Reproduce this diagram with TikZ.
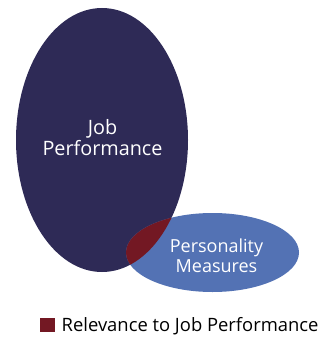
\documentclass[tikz,border=0pt]{standalone}
\usepackage{fontspec}
\setmainfont{Open Sans}
\definecolor{jobnavy}{HTML}{2E2A56}
\definecolor{persblue}{HTML}{5372B4}
\definecolor{relred}{HTML}{731823}
\begin{document}
\begin{tikzpicture}[x=1pt, y=-1pt, label/.style={text=white, align=center, inner sep=0pt}]
\useasboundingbox (0, 0) rectangle (328, 337);
        \fill[jobnavy] (102, 140) ellipse (86 and 132);
        \fill[persblue] (212.5, 252.5) ellipse (86.5 and 39.5);
\begin{scope}
        \clip (102, 140) ellipse (86 and 132);
        \fill[relred] (212.5, 252.5) ellipse (86.5 and 39.5);
\end{scope}
        \node[label, font=\fontsize{19.8}{21}\selectfont] (job) at (102.5, 138) {Job\\Performance};
        \node[label, font=\fontsize{18}{20}\selectfont] (pers) at (216.5, 256) {Personality\\Measures};
        \node[fill=relred, minimum size=14.5pt, inner sep=0pt] (key) at (47.5, 325) {};
        \node[anchor=base west, inner sep=0pt, font=\fontsize{18.4}{20}\selectfont] (keytext) at (61.5, 331.5) {Relevance to Job Performance};
\end{tikzpicture}
\end{document}
